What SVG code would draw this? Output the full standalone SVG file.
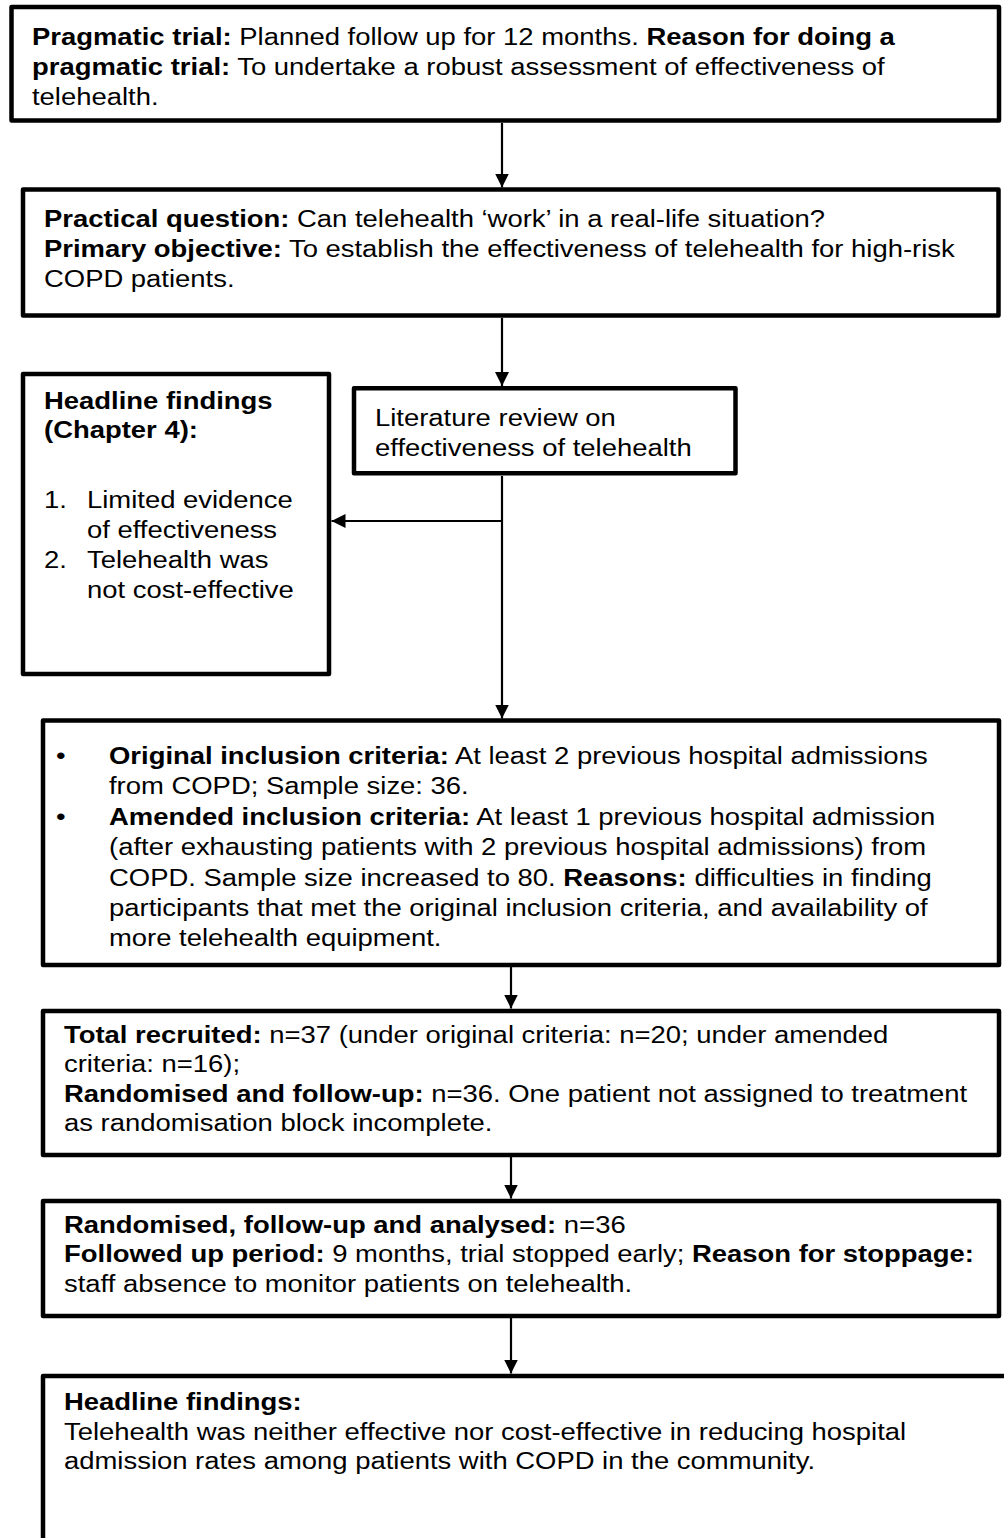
<svg xmlns="http://www.w3.org/2000/svg" width="1004" height="1538" viewBox="0 0 1004 1538">
  <style>
    .box { fill: #fff; stroke: #000; stroke-width: 4.5; stroke-linejoin: round; }
    .t { font-family: "Liberation Sans", Arial, Helvetica, sans-serif; font-size: 24.5px; fill: #000; }
    .b { font-weight: bold; }
    .ln { fill: none; stroke: #000; stroke-width: 2.2; }
  </style>
  <defs>
    <marker id="head" markerUnits="userSpaceOnUse" markerWidth="14" markerHeight="14" refX="14" refY="7" orient="auto">
      <path d="M0,0 L14,7 L0,14 z" fill="#000"/>
    </marker>
  </defs>

  <rect width="1004" height="1538" fill="#fff"/>

  <!-- connectors -->
  <g id="connectors">
    <path class="ln" d="M502,123 V187.5" marker-end="url(#head)"/>
    <path class="ln" d="M502,318 V386" marker-end="url(#head)"/>
    <path class="ln" d="M502,476 V718.5" marker-end="url(#head)"/>
    <path class="ln" d="M502,521 H331.5" marker-end="url(#head)"/>
    <path class="ln" d="M511,967 V1008.5" marker-end="url(#head)"/>
    <path class="ln" d="M511,1157 V1198.5" marker-end="url(#head)"/>
    <path class="ln" d="M511,1318 V1373.5" marker-end="url(#head)"/>
  </g>

  <!-- trial design -->
  <g id="pragmatic">
    <rect class="box" x="11.5" y="7" width="987.5" height="113.5"/>
    <text class="t" transform="translate(32 0) scale(1.12 1)">
      <tspan x="0" y="45"><tspan class="b">Pragmatic trial:</tspan> Planned follow up for 12 months. <tspan class="b">Reason for doing a</tspan></tspan>
      <tspan x="0" y="75"><tspan class="b">pragmatic trial:</tspan> To undertake a robust assessment of effectiveness of</tspan>
      <tspan x="0" y="105">telehealth.</tspan>
    </text>
  </g>

  <g id="question">
    <rect class="box" x="23" y="189.5" width="975.5" height="126"/>
    <text class="t" transform="translate(44 0) scale(1.12 1)">
      <tspan x="0" y="227"><tspan class="b">Practical question:</tspan> Can telehealth ‘work’ in a real-life situation?</tspan>
      <tspan x="0" y="257"><tspan class="b">Primary objective:</tspan> To establish the effectiveness of telehealth for high-risk</tspan>
      <tspan x="0" y="287">COPD patients.</tspan>
    </text>
  </g>

  <g id="review-findings">
    <rect class="box" x="23" y="374" width="306" height="300"/>
    <text class="t" transform="translate(44 0) scale(1.12 1)">
      <tspan x="0" y="409" class="b">Headline findings</tspan>
      <tspan x="0" y="438" class="b">(Chapter 4):</tspan>
      <tspan x="0" y="508">1.</tspan>
      <tspan x="0" y="568">2.</tspan>
    </text>
    <text class="t" transform="translate(87 0) scale(1.12 1)">
      <tspan x="0" y="508">Limited evidence</tspan>
      <tspan x="0" y="538">of effectiveness</tspan>
      <tspan x="0" y="568">Telehealth was</tspan>
      <tspan x="0" y="598">not cost-effective</tspan>
    </text>
  </g>

  <g id="literature-review">
    <rect class="box" x="354" y="388.3" width="381.5" height="85"/>
    <text class="t" transform="translate(375 0) scale(1.12 1)">
      <tspan x="0" y="426">Literature review on</tspan>
      <tspan x="0" y="456">effectiveness of telehealth</tspan>
    </text>
  </g>

  <g id="inclusion">
    <rect class="box" x="43" y="720.5" width="956" height="244.5"/>
    <text class="t" transform="translate(56 0) scale(1.12 1)">
      <tspan x="0" y="764">•</tspan>
      <tspan x="0" y="824.8">•</tspan>
    </text>
    <text class="t" transform="translate(109 0) scale(1.12 1)">
      <tspan x="0" y="764"><tspan class="b">Original inclusion criteria:</tspan> At least 2 previous hospital admissions</tspan>
      <tspan x="0" y="794.4">from COPD; Sample size: 36.</tspan>
      <tspan x="0" y="824.8"><tspan class="b">Amended inclusion criteria:</tspan> At least 1 previous hospital admission</tspan>
      <tspan x="0" y="855.2">(after exhausting patients with 2 previous hospital admissions) from</tspan>
      <tspan x="0" y="885.6">COPD. Sample size increased to 80. <tspan class="b">Reasons:</tspan> difficulties in finding</tspan>
      <tspan x="0" y="916">participants that met the original inclusion criteria, and availability of</tspan>
      <tspan x="0" y="946.4">more telehealth equipment.</tspan>
    </text>
  </g>

  <g id="recruitment">
    <rect class="box" x="43" y="1011" width="956" height="144"/>
    <text class="t" transform="translate(64 0) scale(1.12 1)">
      <tspan x="0" y="1043"><tspan class="b">Total recruited:</tspan> n=37 (under original criteria: n=20; under amended</tspan>
      <tspan x="0" y="1072.5">criteria: n=16);</tspan>
      <tspan x="0" y="1102"><tspan class="b">Randomised and follow-up:</tspan> n=36. One patient not assigned to treatment</tspan>
      <tspan x="0" y="1131.5">as randomisation block incomplete.</tspan>
    </text>
  </g>

  <g id="analysis">
    <rect class="box" x="43" y="1201" width="956" height="115"/>
    <text class="t" transform="translate(64 0) scale(1.12 1)">
      <tspan x="0" y="1233"><tspan class="b">Randomised, follow-up and analysed:</tspan> n=36</tspan>
      <tspan x="0" y="1262.5"><tspan class="b">Followed up period:</tspan> 9 months, trial stopped early; <tspan class="b">Reason for stoppage:</tspan></tspan>
      <tspan x="0" y="1292">staff absence to monitor patients on telehealth.</tspan>
    </text>
  </g>

  <g id="trial-findings">
    <rect class="box" x="43" y="1376" width="990" height="200"/>
    <text class="t" transform="translate(64 0) scale(1.12 1)">
      <tspan x="0" y="1410" class="b">Headline findings:</tspan>
      <tspan x="0" y="1440">Telehealth was neither effective nor cost-effective in reducing hospital</tspan>
      <tspan x="0" y="1469">admission rates among patients with COPD in the community.</tspan>
    </text>
  </g>
</svg>
